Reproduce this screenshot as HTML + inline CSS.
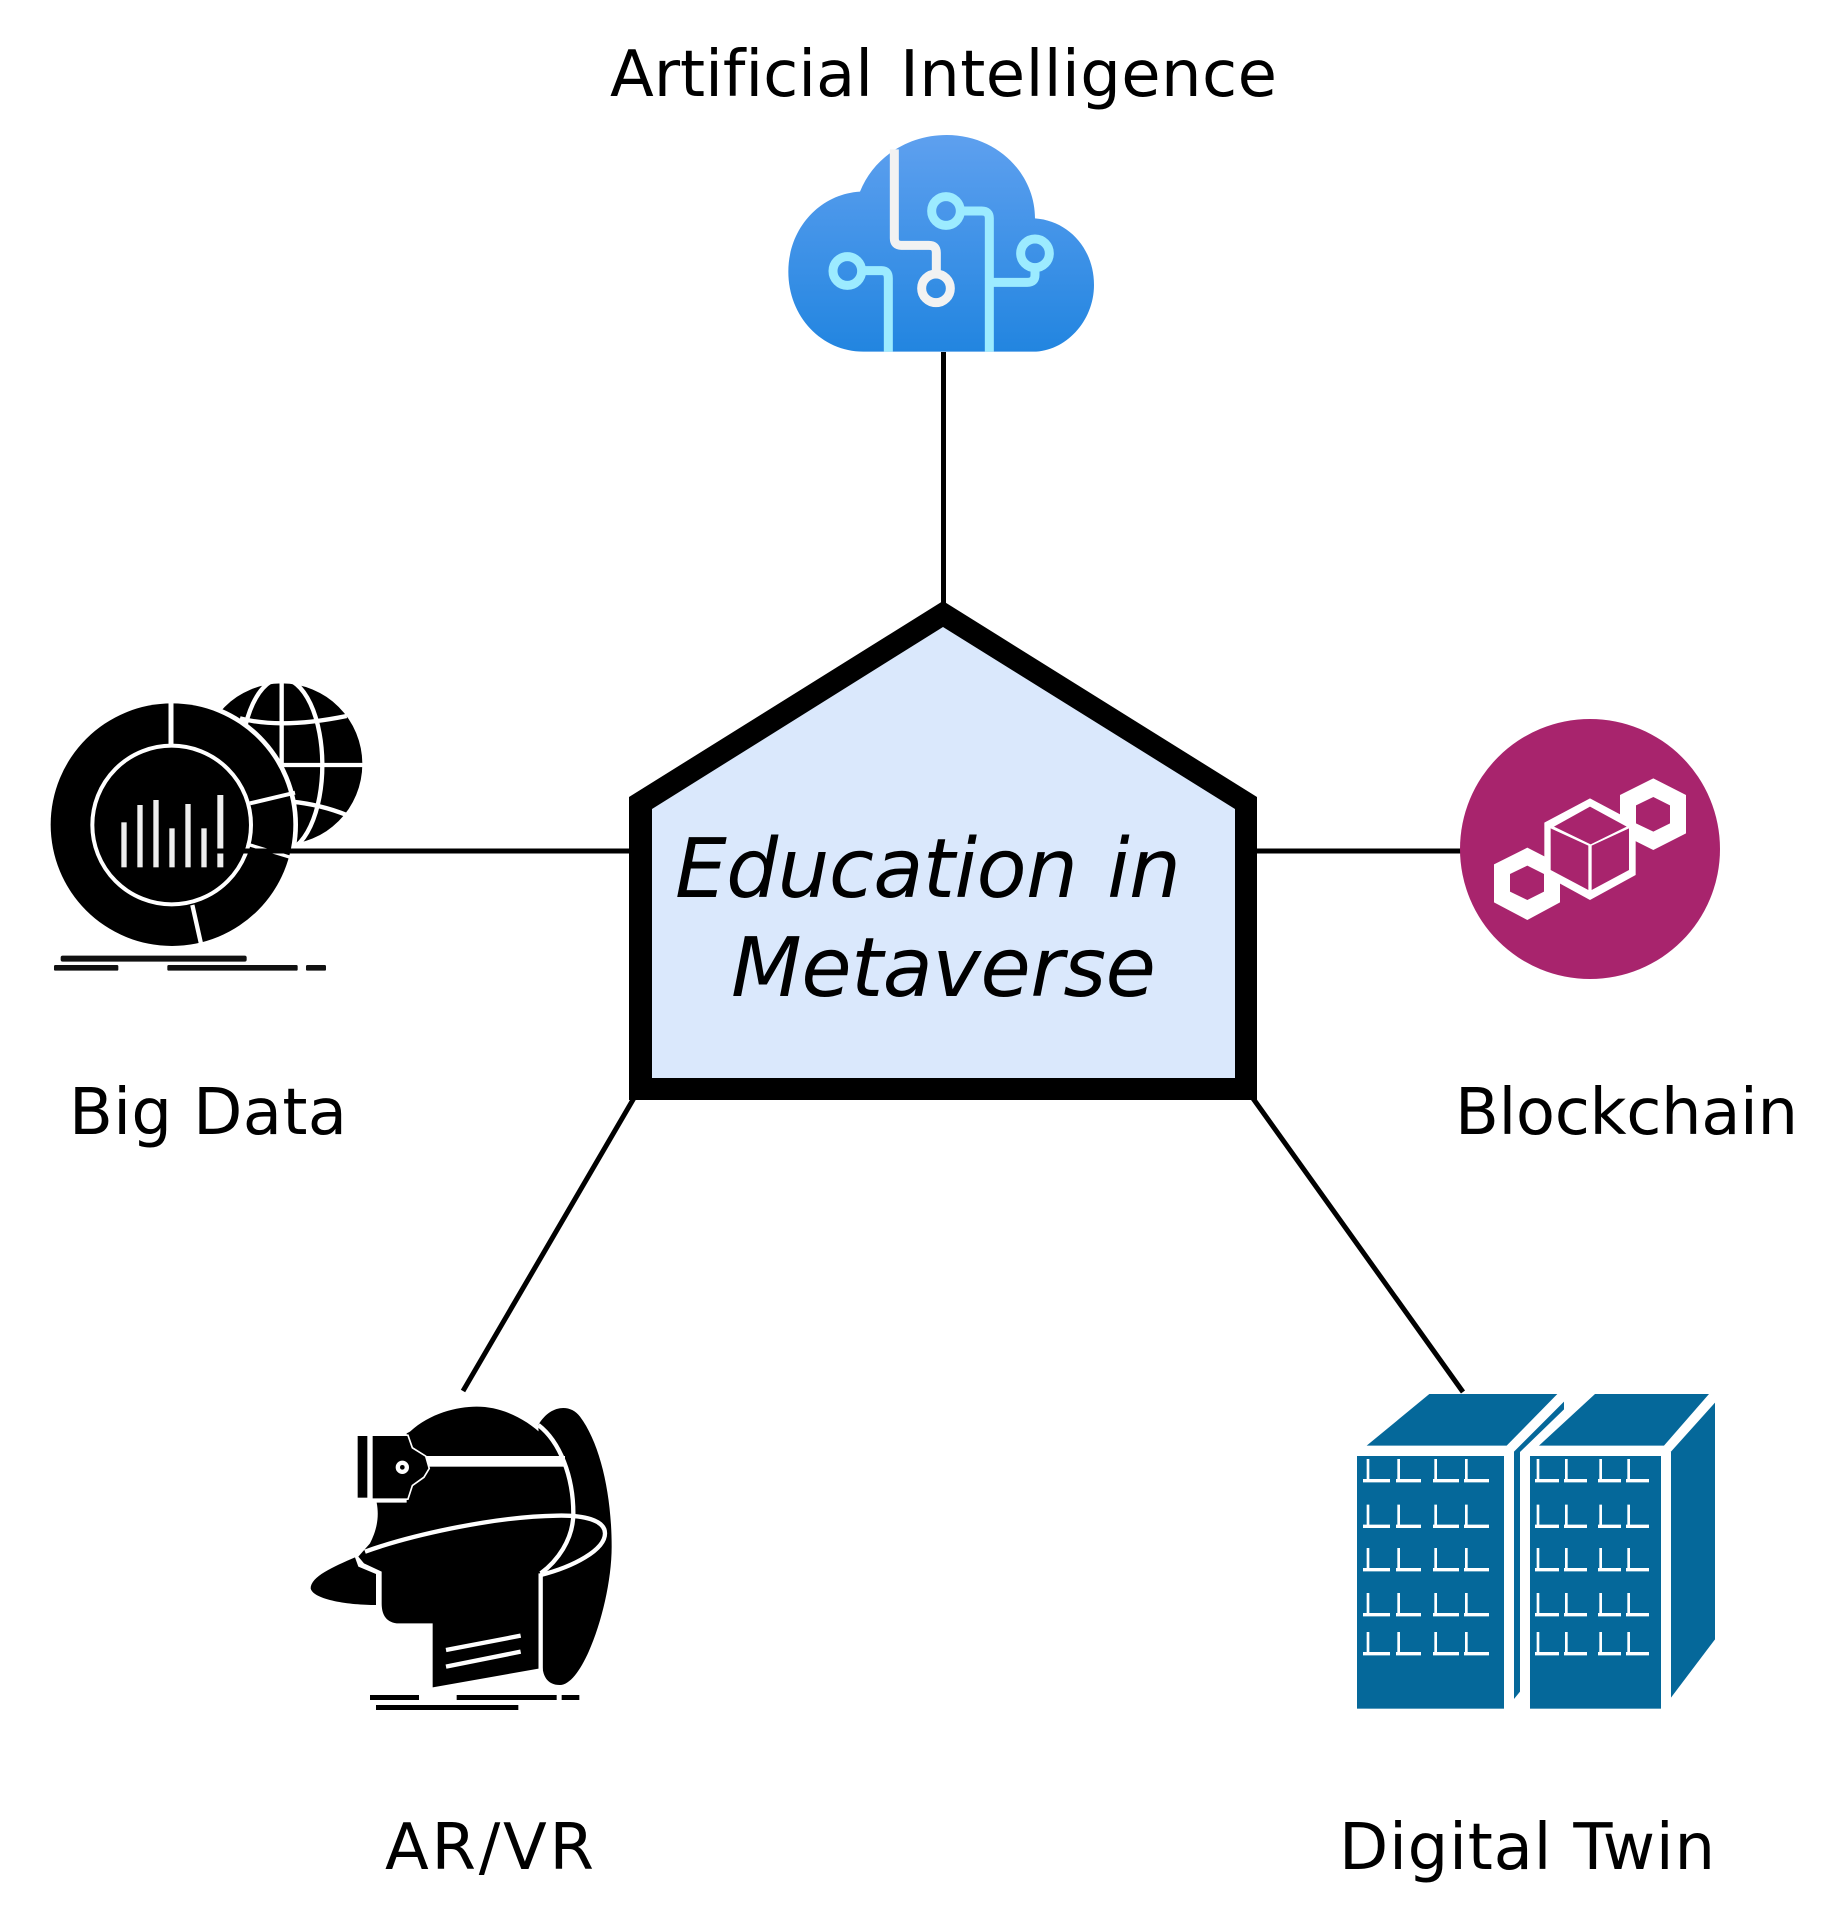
<!DOCTYPE html>
<html><head><meta charset="utf-8"><style>
html,body{margin:0;padding:0;background:#fff;width:1829px;height:1920px;overflow:hidden}
svg{display:block}
text{font-family:"DejaVu Sans","Liberation Sans",sans-serif;fill:#000;font-variant-ligatures:none}
.l{font-size:64px}
.m{font-size:82px;font-style:italic}
</style></head><body>
<svg width="1829" height="1920" viewBox="0 0 1829 1920" xmlns="http://www.w3.org/2000/svg">
<defs><linearGradient id="g" x1="0" y1="0" x2="0" y2="1"><stop offset="0" stop-color="#5ea0ef"/><stop offset="1" stop-color="#2285e0"/></linearGradient></defs>

<!-- connectors -->
<g stroke="#000" stroke-width="5" fill="none">
<line x1="943.5" y1="352" x2="943.5" y2="604"/>
<line x1="1257" y1="851" x2="1463" y2="851"/>
<line x1="634" y1="1098" x2="463" y2="1391"/>
<line x1="1252" y1="1097" x2="1463" y2="1392"/>
</g>

<!-- cloud -->
<g transform="translate(740,100) scale(.33333)">
<path fill="url(#g)" d="M370 755C245 755 145 650 145 515C145 385 240 282 360 275C400 175 500 105 620 105C770 105 885 220 885 355C985 362 1062 445 1062 555C1062 665 975 755 880 755Z"/>
<g fill="none" stroke-width="27">
<g stroke="#f2f2f2"><path d="M463 148V415Q463 436 484 436H567Q589 436 589 458V515"/><circle cx="588" cy="565" r="43"/></g>
<g stroke="#9cebff"><circle cx="322" cy="513" r="43"/><path d="M375 512H425Q445 512 445 535V755"/>
<circle cx="618" cy="333" r="43"/><path d="M670 333H725Q748 333 748 355V755"/>
<circle cx="885" cy="460" r="43"/><path d="M885 510V525Q885 547 862 547H755"/></g>
</g></g>

<!-- big data -->
<g transform="translate(30,660) scale(.33333)">
<circle cx="755" cy="312" r="242" fill="#000"/>
<g fill="none" stroke="#fff" stroke-width="13">
<line x1="755" y1="60" x2="755" y2="560"/><line x1="500" y1="315" x2="1010" y2="315"/>
<ellipse cx="755" cy="315" rx="122" ry="260"/>
<path d="M630 175Q755 208 950 168"/><path d="M785 425Q870 433 950 465"/>
</g>
<circle cx="426" cy="494" r="378" fill="#fff"/>
<circle cx="426" cy="494" r="364" fill="#000"/>
<g fill="none" stroke="#fff">
<circle cx="425" cy="495" r="238" stroke-width="12"/>
<line x1="423" y1="125" x2="423" y2="258" stroke-width="15"/>
<line x1="660" y1="430" x2="795" y2="398" stroke-width="12"/>
<line x1="650" y1="552" x2="795" y2="596" stroke-width="10"/>
<line x1="487" y1="735" x2="515" y2="860" stroke-width="13"/>
</g>
<g fill="#eee"><rect x="274" y="487" width="16" height="135"/><rect x="322" y="435" width="16" height="187"/><rect x="370" y="420" width="16" height="202"/><rect x="418" y="505" width="16" height="117"/><rect x="466" y="432" width="16" height="190"/><rect x="514" y="505" width="16" height="117"/><rect x="562" y="405" width="18" height="217"/></g>
<line x1="540" y1="573" x2="1080" y2="573" stroke="#000" stroke-width="15"/>
<g fill="#111"><rect x="92" y="887" width="558" height="18" rx="6"/><rect x="72" y="915" width="193" height="17" rx="4"/><rect x="412" y="915" width="391" height="17" rx="4"/><rect x="828" y="915" width="60" height="17" rx="4"/></g>
</g>
<line x1="210" y1="851" x2="629" y2="851" stroke="#000" stroke-width="5"/>

<!-- blockchain -->
<g transform="translate(1430,700) scale(.33333)">
<circle cx="480" cy="447" r="390" fill="#a8246d"/>
<path fill="#fff" fill-rule="evenodd" d="M292 443L390 493V607L292 660L192 607V493ZM292 497L240 522V575L292 600L342 575V522Z"/>
<path fill="#fff" fill-rule="evenodd" d="M670 235L768 285V400L670 450L570 400V285ZM670 291L618 316V370L670 395L720 370V316Z"/>
<polygon fill="#fff" points="480,295 617,368 617,525 480,600 343,525 343,368"/>
<g fill="#a8246d"><polygon points="480,320 590,380 482,433 372,380"/><polygon points="362,385 475,437 475,570 362,510"/><polygon points="485,437 597,385 597,510 485,570"/></g>
</g>

<!-- AR/VR -->
<g transform="translate(290,1370) scale(.33333)" fill="#000">
<path d="M745 165C780 105 840 100 870 140C930 220 965 370 965 530C965 700 880 945 810 945C770 945 757 915 757 880V600Z"/>
<path d="M360 185C420 130 500 110 560 110C680 110 790 200 830 300C860 400 850 520 750 610V895L428 952V760H320C285 755 275 730 275 700V605L222 580L205 560L240 520C255 490 270 450 260 398H350V190Z"/>
<path d="M195 562C130 590 62 620 62 655C70 690 180 705 258 705V612L205 590Z"/>
<g fill="none" stroke="#fff" stroke-width="13">
<path d="M745 165C810 215 850 320 850 430C850 510 800 575 752 610"/>
<path d="M225 545C350 500 600 440 800 437C880 435 945 450 945 490C945 540 850 590 752 615"/>
<path d="M752 610V900"/>
</g>
<rect x="405" y="258" width="420" height="32" fill="#fff"/>
<rect x="203" y="198" width="29" height="185"/>
<path d="M248 198H352L365 235L405 260L415 295L400 320L365 345L352 385H248Z" stroke="#fff" stroke-width="10" paint-order="stroke"/>
<circle cx="337" cy="292" r="20" fill="#fff"/><circle cx="337" cy="292" r="7"/>
<g stroke="#fff" stroke-width="13"><line x1="468" y1="840" x2="692" y2="797"/><line x1="468" y1="890" x2="692" y2="845"/></g>
<rect x="240" y="975" width="147" height="15"/><rect x="500" y="975" width="300" height="15"/><rect x="815" y="975" width="53" height="15"/><rect x="258" y="1005" width="427" height="15"/>
</g>

<!-- digital twin -->
<g transform="translate(1330,1370) scale(.33333)">
<g fill="#05689a">
<polygon points="298,72 682,72 530,227 110,227"/><rect x="81" y="258" width="441" height="758"/>
<polygon points="552,245 702,95 702,118 570,246 570,965 552,987"/>
<polygon points="795,72 1137,72 1002,227 627,227"/><rect x="600" y="258" width="393" height="758"/>
<polygon points="1023,245 1155,98 1155,808 1023,983"/>
</g>
<defs>
<g id="r" fill="#fff">
<path d="M110 0h8v60h62v10H99V60h11z"/><path d="M202 0h8v60h63v10H198V60h4z"/><path d="M313 0h8v60h66v10H309V60h4z"/><path d="M405 0h8v60h64v10H402V60h3z"/>
<path d="M620 0h8v60h59v10H615V60h5z"/><path d="M705 0h8v60h58v10H702V60h3z"/><path d="M808 0h8v60h57v10H804V60h4z"/><path d="M892 0h8v60h57v10H888V60h4z"/>
</g></defs>
<use href="#r" y="267"/><use href="#r" y="404"/><use href="#r" y="534"/><use href="#r" y="669"/><use href="#r" y="786"/>
</g>

<!-- house -->
<polygon points="629,797 943,601 1257,797 1257,1100 629,1100" fill="#000"/>
<polygon points="652,809 943,627 1235,809 1235,1078 652,1078" fill="#dae8fc"/>
<text class="m" x="675" y="897" textLength="403">Education</text>
<text class="m" x="1107" y="897" textLength="74">in</text>
<text class="m" x="731" y="996" textLength="425">Metaverse</text>

<!-- labels -->
<text class="l" x="610" y="96" textLength="263">Artificial</text>
<text class="l" x="900" y="96" textLength="377">Intelligence</text>
<text class="l" x="69" y="1134" textLength="278">Big Data</text>
<text class="l" x="1455" y="1134" textLength="343">Blockchain</text>
<text class="l" x="385" y="1869" textLength="209">AR/VR</text>
<text class="l" x="1339" y="1869" textLength="376">Digital Twin</text>
</svg>
</body></html>
